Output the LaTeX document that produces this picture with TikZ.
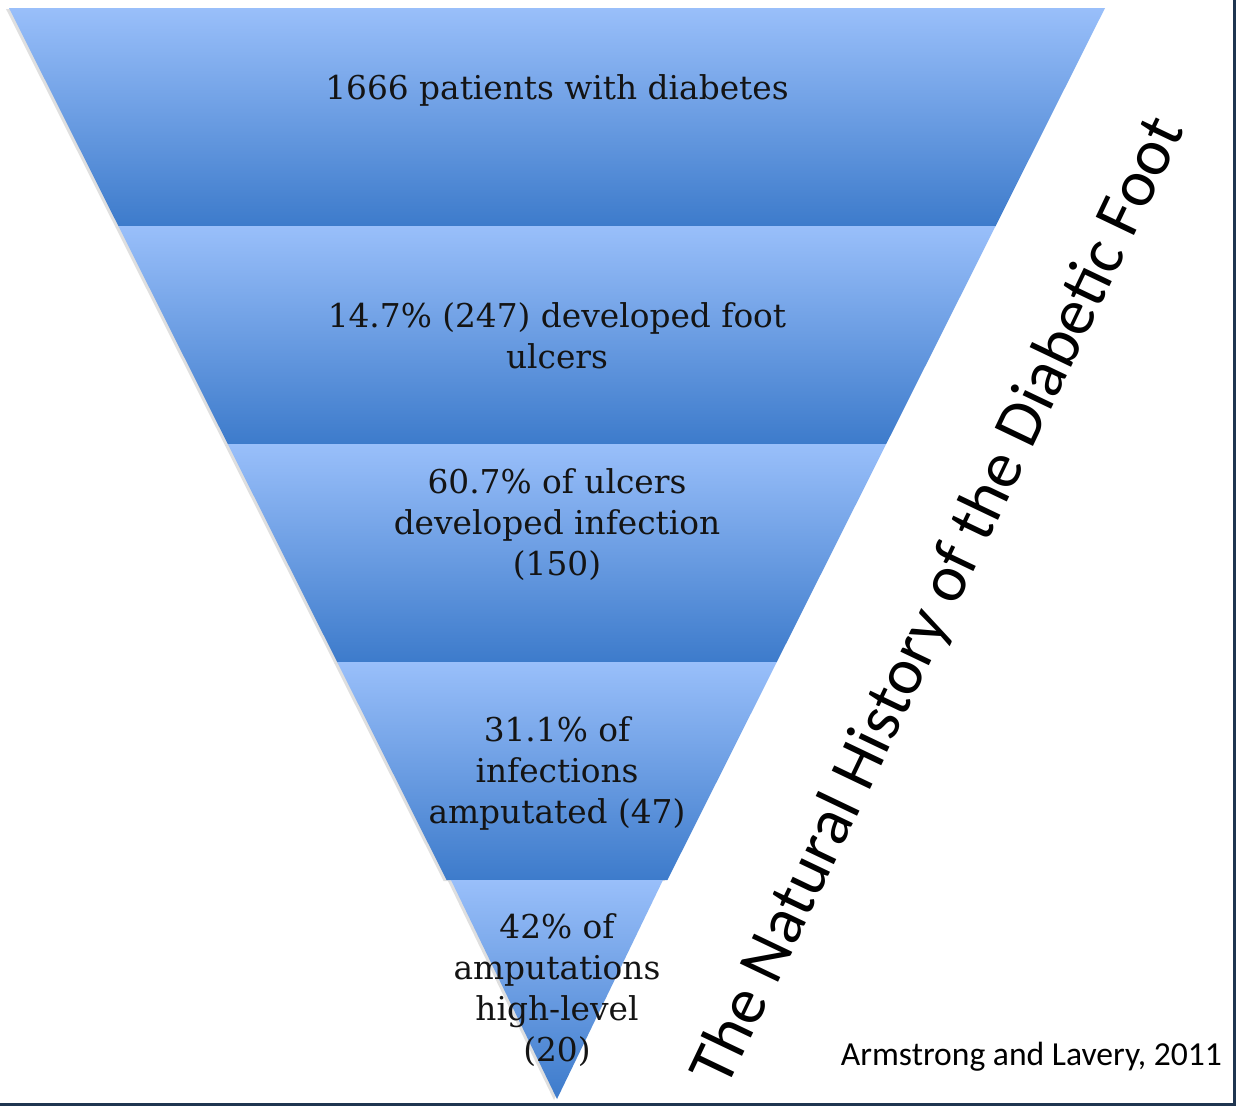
\documentclass[tikz,border=0pt]{standalone}
\usepackage{fontspec}
\setmainfont{DejaVu Serif}
\newfontfamily\titlefont{Carlito}
\usepackage{xcolor}
\definecolor{bandtop}{HTML}{99BFFA}
\definecolor{bandbot}{HTML}{3D7BCB}
\definecolor{frameblue}{HTML}{1F3550}
\usetikzlibrary{calc, shadows}

\begin{document}
\begin{tikzpicture}[x=0.5pt, y=-0.5pt,
    band/.style={top color=bandtop, bottom color=bandbot, drop shadow={shadow xshift=-1.5pt, shadow yshift=-0.5pt, opacity=0.25}},
    bandtext/.style={align=center, font=\fontsize{16.4}{20.5}\selectfont, text=black!92}]
    \useasboundingbox (0,0) rectangle (1236,1105);
    \fill[white] (0,0) rectangle (1236,1105);
    % frame on right and bottom
    \draw[frameblue, line width=1.5pt] (1234,0) -- (1234,1104) -- (0,1104);

    % funnel bands
    \foreach \t/\b in {8/226, 226/444, 444/662, 662/880} {
        \pgfmathsetmacro\lt{9+0.5018*(\t-8)}
        \pgfmathsetmacro\lb{9+0.5018*(\b-8)}
        \pgfmathsetmacro\rt{1105-0.5018*(\t-8)}
        \pgfmathsetmacro\rb{1105-0.5018*(\b-8)}
        \path[band] (\lt,\t) -- (\rt,\t) -- (\rb,\b) -- (\lb,\b) -- cycle;
    }
    \path[band] (451,880) -- (663,880) -- (557,1099) -- cycle;

    % band texts
    \node[bandtext] (diab) at (557,90) {1666 patients with diabetes};
    \node[bandtext] (ulcer) at (557,336) {14.7\% (247) developed foot\\ulcers};
    \node[bandtext] (infect) at (557,525) {60.7\% of ulcers\\developed infection\\(150)};
    \node[bandtext] (amput) at (557,773) {31.1\% of\\infections\\amputated (47)};
    \node[bandtext] (high) at (557,990) {42\% of\\amputations\\high-level\\(20)};

    % title and source
    \node[font=\titlefont\fontsize{33}{35}\selectfont, rotate=64.5] (title) at (940,602) {The Natural History of the Diabetic Foot};
    \node[font=\titlefont\fontsize{16.8}{18}\selectfont, anchor=base east] (source) at (1229,1065) {Armstrong and Lavery, 2011};
\end{tikzpicture}
\end{document}
